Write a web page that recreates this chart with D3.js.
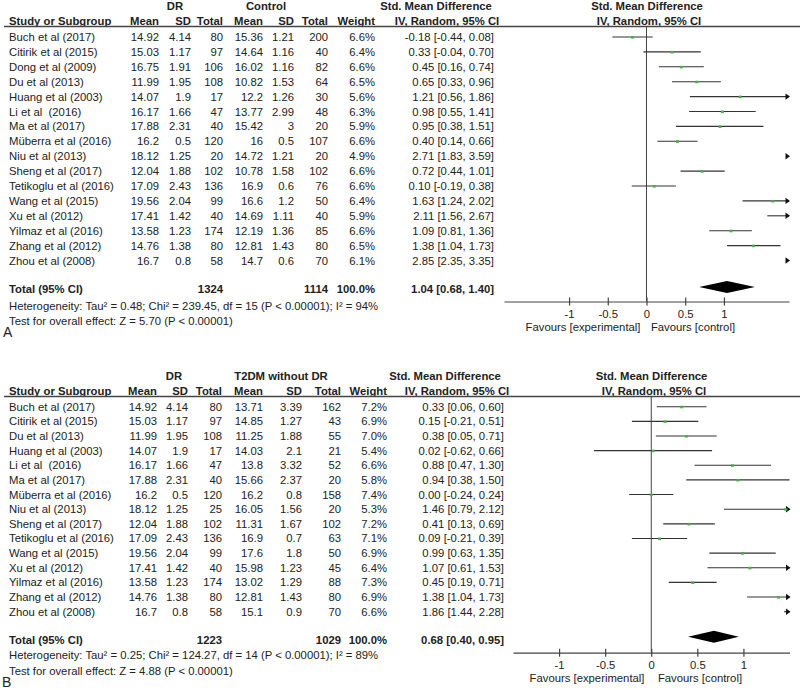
<!DOCTYPE html>
<html>
<head>
<meta charset="utf-8">
<script src="https://cdn.jsdelivr.net/npm/d3@7"></script>
<style>
  body { margin: 0; background: #fff; }
  svg { display: block; }
  text { font-family: "Liberation Sans", Arial, sans-serif; fill: #222; white-space: pre; }
</style>
</head>
<body>
<svg id="chart" width="800" height="690"></svg>
<script>
// ---------- Panel A data ----------
const studiesA = ["Buch et al (2017)","Citirik et al (2015)","Dong et al (2009)","Du et al (2013)","Huang et al (2003)","Li et al  (2016)","Ma et al (2017)","Müberra et al (2016)","Niu et al (2013)","Sheng et al (2017)","Tetikoglu et al (2016)","Wang et al (2015)","Xu et al (2012)","Yilmaz et al (2016)","Zhang et al (2012)","Zhou et al (2008)"];
const drMeanA = [14.92,15.03,16.75,11.99,14.07,16.17,17.88,16.2,18.12,12.04,17.09,19.56,17.41,13.58,14.76,16.7];
const drSdA   = [4.14,1.17,1.91,1.95,1.9,1.66,2.31,0.5,1.25,1.88,2.43,2.04,1.42,1.23,1.38,0.8];
const drNA    = [80,97,106,108,17,47,40,120,20,102,136,99,40,174,80,58];
const ctMeanA = [15.36,14.64,16.02,10.82,12.2,13.77,15.42,16,14.72,10.78,16.9,16.6,14.69,12.19,12.81,14.7];
const ctSdA   = [1.21,1.16,1.16,1.53,1.26,2.99,3,0.5,1.21,1.58,0.6,1.2,1.11,1.36,1.43,0.6];
const ctNA    = [200,40,82,64,30,48,20,107,20,102,76,50,40,85,80,70];
const weightA = [6.6,6.4,6.6,6.5,5.6,6.3,5.9,6.6,4.9,6.6,6.6,6.4,5.9,6.6,6.5,6.1];
const smdA    = [-0.18,0.33,0.45,0.65,1.21,0.98,0.95,0.40,2.71,0.72,0.10,1.63,2.11,1.09,1.38,2.85];
const loA     = [-0.44,-0.04,0.16,0.33,0.56,0.55,0.38,0.14,1.83,0.44,-0.19,1.24,1.56,0.81,1.04,2.35];
const hiA     = [0.08,0.70,0.74,0.96,1.86,1.41,1.51,0.66,3.59,1.01,0.38,2.02,2.67,1.36,1.73,3.35];
const totalA  = {drN: 1324, ctN: 1114, smd: 1.04, lo: 0.68, hi: 1.40};
const hetA    = "Heterogeneity: Tau² = 0.48; Chi² = 239.45, df = 15 (P < 0.00001); I² = 94%";
const testA   = "Test for overall effect: Z = 5.70 (P < 0.00001)";

// ---------- Panel B data ----------
const studiesB = ["Buch et al (2017)","Citirik et al (2015)","Du et al (2013)","Huang et al (2003)","Li et al  (2016)","Ma et al (2017)","Müberra et al (2016)","Niu et al (2013)","Sheng et al (2017)","Tetikoglu et al (2016)","Wang et al (2015)","Xu et al (2012)","Yilmaz et al (2016)","Zhang et al (2012)","Zhou et al (2008)"];
const drMeanB = [14.92,15.03,11.99,14.07,16.17,17.88,16.2,18.12,12.04,17.09,19.56,17.41,13.58,14.76,16.7];
const drSdB   = [4.14,1.17,1.95,1.9,1.66,2.31,0.5,1.25,1.88,2.43,2.04,1.42,1.23,1.38,0.8];
const drNB    = [80,97,108,17,47,40,120,25,102,136,99,40,174,80,58];
const ctMeanB = [13.71,14.85,11.25,14.03,13.8,15.66,16.2,16.05,11.31,16.9,17.6,15.98,13.02,12.81,15.1];
const ctSdB   = [3.39,1.27,1.88,2.1,3.32,2.37,0.8,1.56,1.67,0.7,1.8,1.23,1.29,1.43,0.9];
const ctNB    = [162,43,55,21,52,20,158,20,102,63,50,45,88,80,70];
const weightB = [7.2,6.9,7.0,5.4,6.6,5.8,7.4,5.3,7.2,7.1,6.9,6.4,7.3,6.9,6.6];
const smdB    = [0.33,0.15,0.38,0.02,0.88,0.94,0.00,1.46,0.41,0.09,0.99,1.07,0.45,1.38,1.86];
const loB     = [0.06,-0.21,0.05,-0.62,0.47,0.38,-0.24,0.79,0.13,-0.21,0.63,0.61,0.19,1.04,1.44];
const hiB     = [0.60,0.51,0.71,0.66,1.30,1.50,0.24,2.12,0.69,0.39,1.35,1.53,0.71,1.73,2.28];
const totalB  = {drN: 1223, ctN: 1029, smd: 0.68, lo: 0.40, hi: 0.95};
const hetB    = "Heterogeneity: Tau² = 0.25; Chi² = 124.27, df = 14 (P < 0.00001); I² = 89%";
const testB   = "Test for overall effect: Z = 4.88 (P < 0.00001)";

const axisTicks = [-1, -0.5, 0, 0.5, 1];
const fmt2 = v => v.toFixed(2);

const svg = d3.select("#chart");

function drawPanel(p) {
  const g = svg.append("g");
  const fs = 11.3;
  // Header
  const h1 = p.top + 9.5, h2 = p.top + 24.5, rule = p.top + 26.5;
  const bold = (x, y, t, anchor) => g.append("text").attr("x", x).attr("y", y)
      .attr("text-anchor", anchor).attr("font-size", fs).attr("font-weight", "bold").text(t);
  bold(p.col.drHead, h1, "DR", "middle");
  bold(p.col.ctHead, h1, p.ctLabel, "middle");
  bold(p.col.smdHead1, h1, "Std. Mean Difference", "middle");
  bold(p.col.plotHead1, h1, "Std. Mean Difference", "middle");
  bold(9, h2, "Study or Subgroup", "start");
  bold(p.col.drMean, h2, "Mean", "end");
  bold(p.col.drSd, h2, "SD", "end");
  bold(p.col.drN, h2, "Total", "end");
  bold(p.col.ctMean, h2, "Mean", "end");
  bold(p.col.ctSd, h2, "SD", "end");
  bold(p.col.ctN, h2, "Total", "end");
  bold(p.col.weight, h2, "Weight", "end");
  bold(p.col.smdHead2, h2, "IV, Random, 95% CI", "middle");
  bold(p.col.plotHead2, h2, "IV, Random, 95% CI", "middle");
  g.append("line").attr("x1", 4).attr("x2", 800).attr("y1", rule).attr("y2", rule)
    .attr("stroke", "#444").attr("stroke-width", 1.3);

  // Scales
  const y = d3.scalePoint().domain(p.studies).range([p.rowTop, p.rowBottom]);
  const x = d3.scaleLinear().domain(p.xDomain).range(p.xRange);

  // Row text
  p.studies.forEach((s, i) => {
    const yy = y(s) + 4;
    const t = (xx, txt, anchor) => g.append("text").attr("x", xx).attr("y", yy)
        .attr("text-anchor", anchor).attr("font-size", fs).attr("fill", "#222").text(txt);
    t(9, s, "start");
    t(p.col.drMean, String(p.drMean[i]), "end");
    t(p.col.drSd, String(p.drSd[i]), "end");
    t(p.col.drN, String(p.drN[i]), "end");
    t(p.col.ctMean, String(p.ctMean[i]), "end");
    t(p.col.ctSd, String(p.ctSd[i]), "end");
    t(p.col.ctN, String(p.ctN[i]), "end");
    t(p.col.weight, p.weight[i].toFixed(1) + "%", "end");
    t(p.col.ci, fmt2(p.smd[i]) + " [" + fmt2(p.lo[i]) + ", " + fmt2(p.hi[i]) + "]", "end");
  });

  // Zero line
  g.append("line").attr("x1", x(0)).attr("x2", x(0)).attr("y1", rule).attr("y2", p.axisY)
    .attr("stroke", "#444").attr("stroke-width", 1);

  // CI lines, markers, arrows
  const [dmin, dmax] = p.xDomain;
  p.studies.forEach((s, i) => {
    const yy = y(s);
    const lo = Math.max(p.lo[i], dmin), hi = Math.min(p.hi[i], dmax);
    if (lo < hi) {
      g.append("line").attr("x1", x(lo)).attr("x2", x(hi)).attr("y1", yy).attr("y2", yy)
        .attr("stroke", "#333").attr("stroke-width", 1.1);
    }
    if (p.hi[i] > dmax) {
      const xe = x(dmax) + 1;
      g.append("path").attr("d", `M${xe - 4.5},${yy - 3.2}L${xe},${yy}L${xe - 4.5},${yy + 3.2}Z`)
        .attr("fill", "#111");
    }
    if (p.smd[i] >= dmin && p.smd[i] <= dmax) {
      g.append("rect").attr("x", x(p.smd[i]) - 1.5).attr("y", yy - 1).attr("width", 3).attr("height", 2.6)
        .attr("fill", "#4cae4c");
    }
  });

  // Totals row
  const ty = p.totalY + 4;
  bold(9, ty, "Total (95% CI)", "start");
  bold(p.col.drN, ty, String(p.total.drN), "end");
  bold(p.col.ctN, ty, String(p.total.ctN), "end");
  bold(p.col.weight, ty, "100.0%", "end");
  bold(p.col.ci, ty, fmt2(p.total.smd) + " [" + fmt2(p.total.lo) + ", " + fmt2(p.total.hi) + "]", "end");

  // Diamond
  const dy = p.diamondY;
  g.append("path")
    .attr("d", `M${x(p.total.lo)},${dy}L${x(p.total.smd)},${dy - 6}L${x(p.total.hi)},${dy}L${x(p.total.smd)},${dy + 6}Z`)
    .attr("fill", "#000");

  // Axis
  const axis = d3.axisBottom(x).tickValues(axisTicks).tickSizeOuter(0).tickSizeInner(4)
    .tickFormat(d => String(d));
  const ag = g.append("g").attr("transform", `translate(0,${p.axisY})`).call(axis);
  ag.select(".domain").attr("stroke", "#444").attr("stroke-width", 1.2);
  ag.selectAll(".tick line").attr("y1", -4).attr("y2", 4).attr("stroke", "#444").attr("stroke-width", 1.2);
  ag.selectAll(".tick text").attr("y", 8).attr("dy", "0.75em").attr("font-size", fs)
    .attr("font-family", "Liberation Sans, Arial, sans-serif").attr("fill", "#222");
  g.append("text").attr("x", p.favExpX).attr("y", p.axisY + 29).attr("text-anchor", "middle")
    .attr("font-size", fs).text("Favours [experimental]");
  g.append("text").attr("x", p.favCtlX).attr("y", p.axisY + 29).attr("text-anchor", "middle")
    .attr("font-size", fs).text("Favours [control]");

  // Footnotes
  g.append("text").attr("x", 9).attr("y", p.hetY + 4).attr("font-size", fs).text(p.het);
  g.append("text").attr("x", 9).attr("y", p.testY + 4).attr("font-size", fs).text(p.test);
  g.append("text").attr("x", p.letterX).attr("y", p.letterY).attr("font-size", 14).text(p.letter);
}

drawPanel({
  top: 0, studies: studiesA, drMean: drMeanA, drSd: drSdA, drN: drNA,
  ctMean: ctMeanA, ctSd: ctSdA, ctN: ctNA, weight: weightA, smd: smdA, lo: loA, hi: hiA,
  total: totalA, het: hetA, test: testA, ctLabel: "Control", letter: "A",
  col: {drHead: 175, ctHead: 266, smdHead1: 436, smdHead2: 447, plotHead1: 647, plotHead2: 649,
        drMean: 159, drSd: 191, drN: 223, ctMean: 263, ctSd: 294, ctN: 328, weight: 375, ci: 494},
  rowTop: 37, rowBottom: 260.5, totalY: 289, diamondY: 287, hetY: 305.5, testY: 321,
  xDomain: [-1.84, 1.84], xRange: [504, 789], axisY: 301.5,
  favExpX: 583, favCtlX: 693, letterX: 3, letterY: 337
});

drawPanel({
  top: 370, studies: studiesB, drMean: drMeanB, drSd: drSdB, drN: drNB,
  ctMean: ctMeanB, ctSd: ctSdB, ctN: ctNB, weight: weightB, smd: smdB, lo: loB, hi: hiB,
  total: totalB, het: hetB, test: testB, ctLabel: "T2DM without DR", letter: "B",
  col: {drHead: 174, ctHead: 281, smdHead1: 445, smdHead2: 457, plotHead1: 651.5, plotHead2: 654,
        drMean: 157, drSd: 188, drN: 222, ctMean: 263, ctSd: 302, ctN: 341, weight: 387, ci: 504},
  rowTop: 406.7, rowBottom: 611.7, totalY: 640, diamondY: 636.7, hetY: 655, testY: 670.7,
  xDomain: [-1.5, 1.5], xRange: [513, 789.5], axisY: 652.7,
  favExpX: 587, favCtlX: 700, letterX: 2, letterY: 687
});
</script>
</body>
</html>
